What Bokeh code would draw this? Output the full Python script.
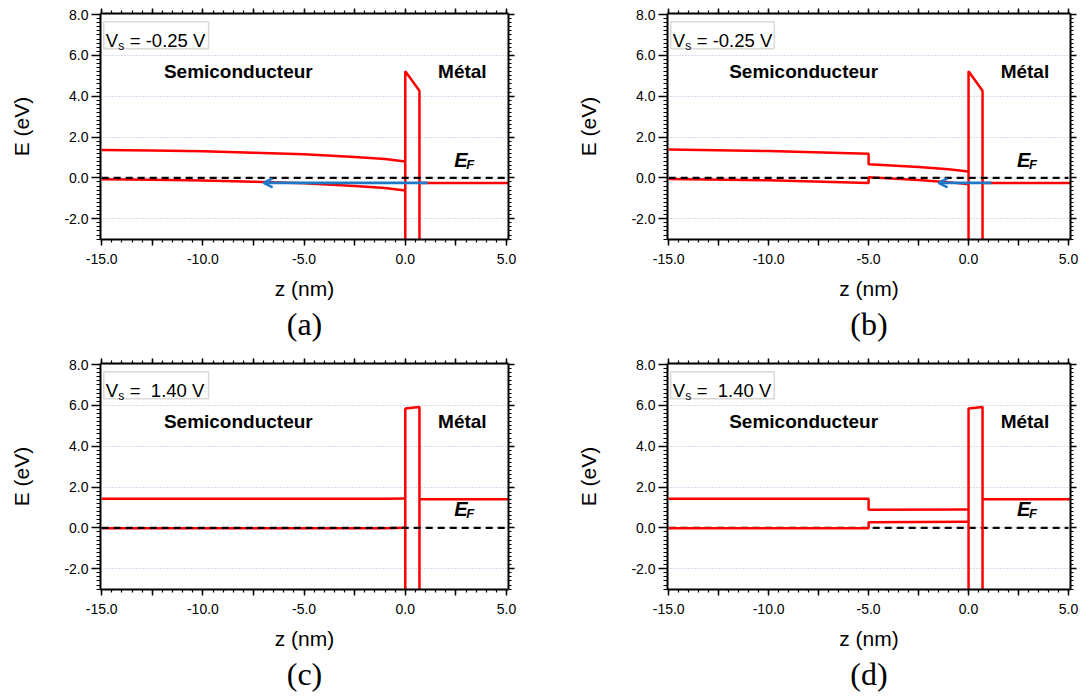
from bokeh.plotting import figure
from bokeh.layouts import column, row
from bokeh.models import (LinearAxis, FixedTicker, PrintfTickFormatter, Label,
                          BoxAnnotation, Arrow, OpenHead, Title, Grid,
                          CustomLabelingPolicy)
from bokeh.embed import file_html
from bokeh.resources import INLINE

# ---------------- data ----------------
z_left_a = [-15, -12.5, -10, -7.5, -5, -2.5, -1, 0]
cb_a = [1.36, 1.34, 1.30, 1.23, 1.15, 1.02, 0.92, 0.80]
vb_a = [-0.07, -0.09, -0.13, -0.19, -0.27, -0.40, -0.50, -0.62]

z_left_b = [-15, -10, -5, -5, -2.5, -1, 0]
cb_b = [1.39, 1.31, 1.18, 0.66, 0.53, 0.42, 0.31]
vb_b = [-0.06, -0.12, -0.25, 0.03, -0.10, -0.21, -0.32]

z_left_c = [-15, -1, 0]
cb_c = [1.42, 1.42, 1.44]
vb_c = [-0.02, -0.02, 0.0]

z_left_d = [-15, -5, -5, 0]
cb_d = [1.42, 1.42, 0.89, 0.90]
vb_d = [-0.02, -0.02, 0.28, 0.30]

z_barrier = [0, 0, 0.7, 0.7]
barrier_neg = [-3.0, 5.22, 4.27, -3.0]   # Vs = -0.25 V
barrier_pos = [-3.0, 5.85, 5.92, -3.0]   # Vs = 1.40 V

z_metal = [0.7, 5.1]
metal_neg = [-0.25, -0.25]
metal_pos = [1.40, 1.40]

z_fermi = [-15, 5]
e_fermi = [0, 0]

arrow_a = dict(z_start=1.1, z_end=-7.0, E=-0.25)
arrow_b = dict(z_start=1.15, z_end=-1.5, E=-0.25)

vs_labels = ["= -0.25 V", "= -0.25 V", "=\u00a0 1.40 V", "=\u00a0 1.40 V"]
captions = ["(a)", "(b)", "(c)", "(d)"]
x_major = [-15, -12.5, -10, -7.5, -5, -2.5, 0, 2.5, 5]
x_minor = [-15 + 0.5 * i for i in range(41)]
y_major = [-2, 0, 2, 4, 6, 8]
y_minor = [round(-3 + 0.2 * i, 1) for i in range(56)]

RED = "#ff0000"
BLUE = "#1e78c8"
FONT = "Liberation Sans"
LW = 2.5

EVEN_ONLY = """
const result = new Set()
for (const i of indices) {
    if (i % 2 == 0) result.add(i)
}
return result
"""
NONE = """
return new Set()
"""


def style(ax, mo, mi):
    ax.axis_line_color = "black"
    ax.axis_line_width = 2
    ax.major_tick_line_color = "black"
    ax.minor_tick_line_color = "black"
    ax.major_tick_line_width = 1.5
    ax.minor_tick_line_width = 1.2
    ax.major_tick_in = 0
    ax.minor_tick_in = 0
    ax.major_tick_out = mo
    ax.minor_tick_out = mi


def make_panel(width, bl, br, bt, bb, height, zl, cb, vb, barrier, metal,
               arrow, vs_text, caption, ef_y, fermi_under=False):
    p = figure(width=width, height=height, x_range=(-15.06, 5.1), y_range=(-3.02, 8.05),
               output_backend="svg", toolbar_location=None,
               min_border_left=bl, min_border_right=br, min_border_top=bt,
               min_border_bottom=bb)
    p.outline_line_color = None
    p.background_fill_color = "white"
    p.border_fill_color = "white"
    p.xgrid.visible = False
    p.ygrid.visible = False

    xt = FixedTicker(ticks=x_major, minor_ticks=x_minor)
    yt = FixedTicker(ticks=y_major, minor_ticks=y_minor)

    xb = p.xaxis[0]
    xb.ticker = xt
    style(xb, 6, 3)
    xb.formatter = PrintfTickFormatter(format="%.1f")
    xb.major_label_policy = CustomLabelingPolicy(code=EVEN_ONLY)
    xb.major_label_text_font = FONT
    xb.major_label_text_font_size = "14px"
    xb.major_label_text_color = "black"
    xb.major_label_standoff = 8
    xb.axis_label = "z (nm)"
    xb.axis_label_text_font = FONT
    xb.axis_label_text_font_size = "21px"
    xb.axis_label_text_font_style = "normal"
    xb.axis_label_text_color = "black"
    xb.axis_label_standoff = 10

    yl = p.yaxis[0]
    yl.ticker = yt
    style(yl, 9, 4)
    yl.formatter = PrintfTickFormatter(format="%.1f")
    yl.major_label_text_font = FONT
    yl.major_label_text_font_size = "14px"
    yl.major_label_text_color = "black"
    yl.major_label_standoff = 3
    yl.axis_label = "E (eV)"
    yl.axis_label_text_font = FONT
    yl.axis_label_text_font_size = "21px"
    yl.axis_label_text_font_style = "normal"
    yl.axis_label_text_color = "black"
    yl.axis_label_standoff = 28

    for loc, tk, mo, mi in (("above", xt, 5, 3), ("right", yt, 6, 3)):
        ax = LinearAxis(ticker=tk)
        style(ax, mo, mi)
        ax.major_label_policy = CustomLabelingPolicy(code=NONE)
        ax.major_label_text_font_size = "1px"
        ax.major_label_text_color = None
        ax.major_label_standoff = 0
        p.add_layout(ax, loc)

    g = Grid(dimension=1, ticker=yt, grid_line_color="#b4b4dc",
             grid_line_dash="1 2", grid_line_width=1)
    p.add_layout(g)

    if fermi_under:
        p.line(z_fermi, e_fermi, line_color="black", line_width=2.4, line_dash="7 5")
    p.line(zl, cb, line_color=RED, line_width=LW)
    p.line(zl, vb, line_color=RED, line_width=LW)
    p.line(z_barrier, barrier, line_color=RED, line_width=LW)
    p.line(z_metal, metal, line_color=RED, line_width=LW)
    if not fermi_under:
        p.line(z_fermi, e_fermi, line_color="black", line_width=2.4, line_dash="7 5")

    if arrow is not None:
        p.add_layout(Arrow(end=OpenHead(size=9, line_color=BLUE, line_width=2.5),
                           x_start=arrow["z_start"], y_start=arrow["E"],
                           x_end=arrow["z_end"], y_end=arrow["E"],
                           line_color=BLUE, line_width=2.7))

    p.add_layout(Label(x=-8.25, y=5.23, text="Semiconducteur", text_align="center",
                       text_baseline="middle", text_font=FONT, text_font_style="bold",
                       text_font_size="19px", text_color="black"))
    p.add_layout(Label(x=2.82, y=5.23, text="Métal", text_align="center",
                       text_baseline="middle", text_font=FONT, text_font_style="bold",
                       text_font_size="19px", text_color="black"))
    p.add_layout(Label(x=2.42, y=ef_y, text="E", text_align="left",
                       text_baseline="alphabetic", text_font=FONT,
                       text_font_style="bold italic", text_font_size="20px",
                       text_color="black"))
    p.add_layout(Label(x=2.42, y=ef_y, x_offset=12, y_offset=-4, text="F",
                       text_align="left", text_baseline="alphabetic", text_font=FONT,
                       text_font_style="bold italic", text_font_size="13px",
                       text_color="black"))

    # Vs box
    p.add_layout(BoxAnnotation(left=-14.9, right=-9.72, top=7.65, bottom=6.32,
                               fill_color=None, line_color="#808080", line_width=1.5))
    p.add_layout(Label(x=-14.8, y=6.72, text="V", text_align="left",
                       text_baseline="alphabetic", text_font=FONT,
                       text_font_size="18.5px", text_color="black"))
    p.add_layout(Label(x=-14.8, y=6.72, x_offset=12.5, y_offset=-5, text="s",
                       text_align="left", text_baseline="alphabetic", text_font=FONT,
                       text_font_size="12px", text_color="black"))
    p.add_layout(Label(x=-14.8, y=6.72, x_offset=24, text=vs_text, text_align="left",
                       text_baseline="alphabetic", text_font=FONT,
                       text_font_size="18.5px", text_color="black"))

    p.add_layout(Title(text=caption, align="center", text_font="Liberation Serif",
                       text_font_size="32px", text_font_style="normal",
                       text_color="black", standoff=2), "below")
    return p


H1, H2 = 354, 343
pa = make_panel(550, 100, 42, 13, 115, H1, z_left_a, cb_a, vb_a, barrier_neg, metal_neg,
                arrow_a, vs_labels[0], captions[0], 0.85)
pb = make_panel(540, 117, 20, 13, 115, H1, z_left_b, cb_b, vb_b, barrier_neg, metal_neg,
                arrow_b, vs_labels[1], captions[1], 0.85)
pc = make_panel(550, 100, 42, 9, 108, H2, z_left_c, cb_c, vb_c, barrier_pos, metal_pos,
                None, vs_labels[2], captions[2], 0.92)
pd = make_panel(540, 117, 20, 9, 108, H2, z_left_d, cb_d, vb_d, barrier_pos, metal_pos,
                None, vs_labels[3], captions[3], 0.92, fermi_under=True)

layout = column(row(pa, pb), row(pc, pd))
open("out.html", "w").write(file_html(layout, INLINE))
